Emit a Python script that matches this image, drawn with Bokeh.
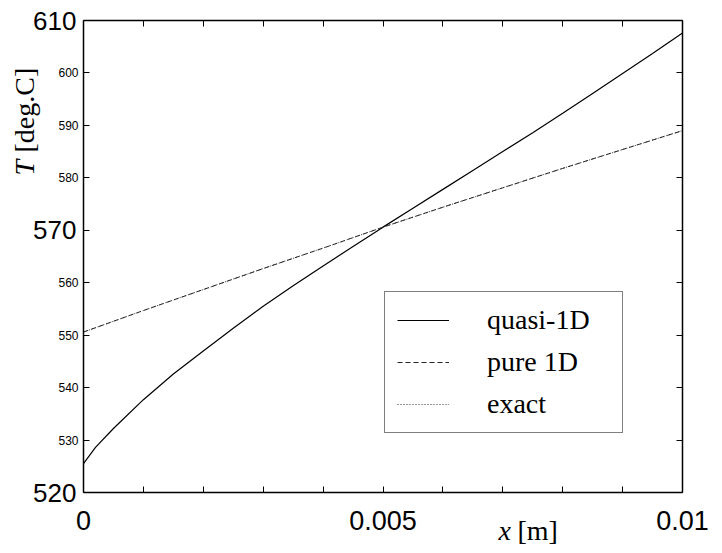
import math
from bokeh.plotting import figure
from bokeh.models import Range1d, LinearAxis, FixedTicker, Label, Legend, LegendItem
from bokeh.embed import file_html
from bokeh.resources import INLINE

# ---- data ----
x_quasi = [0.0, 0.0002, 0.0005, 0.001, 0.0015, 0.002, 0.0025, 0.003, 0.0035, 0.004,
           0.0045, 0.005, 0.0055, 0.006, 0.0065, 0.007, 0.0075, 0.008, 0.0085, 0.009,
           0.0095, 0.01]
t_quasi = [525.5, 528.6, 532.2, 537.7, 542.6, 547.0, 551.3, 555.5, 559.4, 563.2,
           566.9, 570.6, 574.2, 577.8, 581.4, 585.0, 588.6, 592.3, 596.1, 599.9,
           603.7, 607.6]
x_1d = [0.0, 0.001, 0.002, 0.003, 0.004, 0.005, 0.006, 0.007, 0.008, 0.009, 0.01]
t_pure = [550.6, 554.7, 558.7, 562.7, 566.6, 570.6, 574.4, 578.1, 581.8, 585.4, 589.0]
t_exact = [550.6, 554.7, 558.7, 562.7, 566.6, 570.6, 574.4, 578.1, 581.8, 585.4, 589.0]

x_major = [0.0, 0.005, 0.01]
x_minor = [0.001, 0.002, 0.003, 0.004, 0.006, 0.007, 0.008, 0.009]
y_small = [530, 540, 550, 560, 580, 590, 600]
y_big = [520, 570, 610]
x_lim = (0.0, 0.01)
y_lim = (520, 610)

SANS = "Liberation Sans"
SERIF = "Liberation Serif"

# ---- layout (canvas pixels) ----
W, H = 722, 553
BOX_L, BOX_R, BOX_T, BOX_B = 83, 682, 20, 492
sx = (BOX_R - BOX_L) / (x_lim[1] - x_lim[0])
sy = (BOX_B - BOX_T) / (y_lim[1] - y_lim[0])
x_range = Range1d(x_lim[0] - BOX_L / sx, x_lim[1] + (W - BOX_R) / sx)
y_range = Range1d(y_lim[0] - (H - BOX_B) / sy, y_lim[1] + BOX_T / sy)

p = figure(width=W, height=H, x_range=x_range, y_range=y_range,
           output_backend="svg", toolbar_location=None,
           x_axis_location=None, y_axis_location=None, min_border=0)
p.xgrid.visible = False
p.ygrid.visible = False
p.outline_line_color = None
p.background_fill_color = "white"
p.border_fill_color = "white"


def make_axis(ticks, loc, bounds, labels=None, font_size="12px", standoff=5,
              line=True, tick_len=6):
    ax = LinearAxis(ticker=FixedTicker(ticks=ticks, minor_ticks=[]),
                    fixed_location=loc, bounds=bounds)
    ax.axis_line_color = "black" if line else None
    ax.axis_line_width = 1.5
    ax.major_tick_line_color = "black" if tick_len else None
    ax.major_tick_line_width = 1
    ax.major_tick_in = tick_len
    ax.major_tick_out = 0
    ax.minor_tick_line_color = None
    ax.major_label_text_font = SANS
    ax.major_label_text_font_size = font_size
    ax.major_label_text_color = "black"
    ax.major_label_standoff = standoff
    if labels is None:
        ax.major_label_overrides = {v: "" for v in ticks}
    else:
        ax.major_label_overrides = labels
    return ax


all_x = sorted(x_major + x_minor)
all_y = sorted(y_small + y_big)

# bottom: ticks every 0.001, large labels at 0, 0.005, 0.01
p.add_layout(make_axis(all_x, y_lim[0], x_lim), "below")
p.add_layout(make_axis(x_major, y_lim[0], x_lim,
                       labels={0.0: "0", 0.005: "0.005", 0.01: "0.01"},
                       font_size="27px", standoff=18, line=False, tick_len=0), "below")
# left: ticks every 10, small labels, plus large labels 520/570/610
p.add_layout(make_axis(all_y, x_lim[0], y_lim,
                       labels={v: (str(v) if v in y_small else "") for v in all_y},
                       font_size="12px", standoff=5), "left")
p.add_layout(make_axis(y_big, x_lim[0], y_lim,
                       labels={v: str(v) for v in y_big},
                       font_size="26px", standoff=7, line=False, tick_len=0), "left")
# top and right: ticks only
p.add_layout(make_axis(all_x, y_lim[1], x_lim), "above")
p.add_layout(make_axis(all_y, x_lim[1], y_lim), "right")

# axis titles
title_kw = dict(text_font=SERIF, text_font_size="28px", text_baseline="alphabetic",
                text_align="left", text_color="black")
p.add_layout(Label(x=x_lim[0], y=y_lim[0], text="x", x_offset=415, y_offset=-38,
                   text_font_style="italic", **title_kw))
p.add_layout(Label(x=x_lim[0], y=y_lim[0], text="[m]", x_offset=434, y_offset=-38,
                   **title_kw))
p.add_layout(Label(x=x_lim[0], y=y_lim[0], text="T", x_offset=-59, y_offset=317,
                   angle=math.pi / 2, text_font_style="italic", **title_kw))
p.add_layout(Label(x=x_lim[0], y=y_lim[0], text="[deg.C]", x_offset=-59, y_offset=340,
                   angle=math.pi / 2, **title_kw))

# lines
r_q = p.line(x_quasi, t_quasi, line_color="black", line_width=1.2)
r_p = p.line(x_1d, t_pure, line_color="#222222", line_width=1.0, line_dash="5 3")
r_e = p.line(x_1d, t_exact, line_color="#333333", line_width=1.0, line_dash="1 2")

legend = Legend(items=[LegendItem(label="quasi-1D", renderers=[r_q]),
                       LegendItem(label="pure 1D", renderers=[r_p]),
                       LegendItem(label="exact", renderers=[r_e])],
                location=(384, H - 433))
legend.border_line_color = "black"
legend.border_line_width = 1
legend.background_fill_color = "white"
legend.background_fill_alpha = 1.0
legend.label_text_font = SERIF
legend.label_text_font_size = "28px"
legend.label_text_color = "black"
legend.padding = 12
legend.spacing = 10
legend.label_height = 32
legend.glyph_height = 32
legend.glyph_width = 52
legend.label_standoff = 38
legend.label_width = 123
legend.margin = 0
p.add_layout(legend)

open("out.html", "w").write(file_html(p, INLINE))
